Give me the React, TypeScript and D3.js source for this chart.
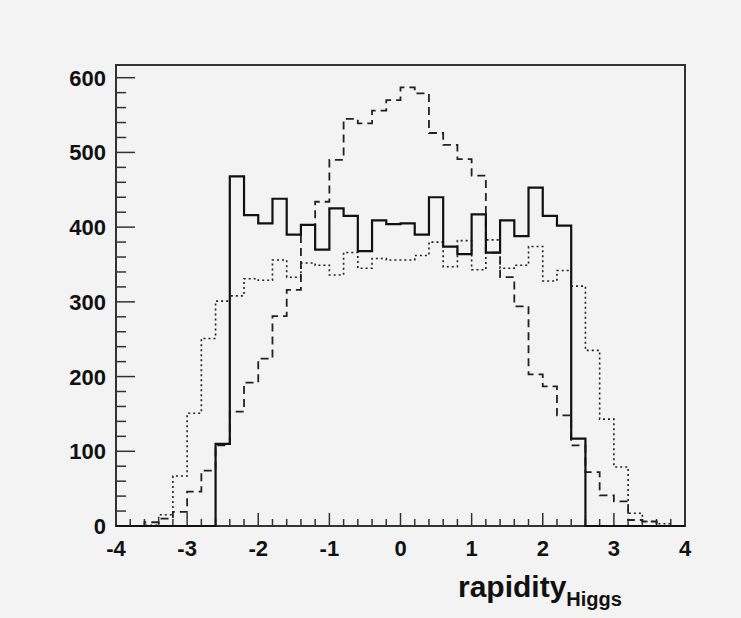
import React from 'react'
import * as d3 from 'd3'

// bin lower edges: -4 .. 3.8 in steps of 0.2 (40 bins)
const binEdges = d3.range(41).map(i => -4 + i * 0.2)

const solidCounts = [
  0, 0, 0, 0, 0, 0, 0, 110, 468, 416, 405, 438, 390, 403, 370, 425, 415, 368, 409, 404,
  405, 390, 440, 374, 364, 417, 366, 409, 388, 453, 415, 402, 117, 0, 0, 0, 0, 0, 0, 0,
]
const dashedCounts = [
  0, 0, 5, 10, 19, 46, 74, 108, 153, 192, 224, 281, 316, 403, 434, 490, 545, 539, 556, 570,
  587, 579, 526, 510, 491, 469, 366, 333, 294, 203, 187, 148, 108, 72, 41, 33, 8, 6, 0, 0,
]
const dottedCounts = [
  0, 0, 1, 15, 67, 151, 251, 301, 308, 331, 329, 356, 333, 352, 349, 336, 366, 345, 358, 356,
  356, 362, 380, 347, 382, 343, 383, 345, 349, 374, 328, 342, 321, 235, 143, 79, 17, 6, 3, 0,
]

const xTicks = [-4, -3, -2, -1, 0, 1, 2, 3, 4]
const yTicks = [0, 100, 200, 300, 400, 500, 600]

const W = 741
const H = 618
const left = 116
const right = 685
const top = 65
const bottom = 526

const x = d3.scaleLinear().domain([-4, 4]).range([left, right])
const y = d3.scaleLinear().domain([0, 617]).range([bottom, top])

const histPath = (counts: number[]) => {
  const pts: [number, number][] = counts.map((c, i) => [binEdges[i], c])
  pts.push([binEdges[40], counts[counts.length - 1]])
  return (
    d3
      .line<[number, number]>()
      .x(d => x(d[0]))
      .y(d => y(d[1]))
      .curve(d3.curveStepAfter)(pts) || ''
  )
}

const font = '"Liberation Sans", Arial, sans-serif'

export default function App() {
  const xMinor = d3.range(41).map(i => -4 + i * 0.2)
  const yMinor = d3.range(0, 620, 20)
  return (
    <svg
      width={W}
      height={H}
      style={{ position: 'absolute', left: 0, top: 0, background: '#f3f3f3' }}
    >
      <rect x={left} y={top} width={right - left} height={bottom - top} fill="none" stroke="#333" strokeWidth={2} />
      {yMinor.map(v => (
        <line key={'ym' + v} x1={left} x2={left + (v % 100 === 0 ? 19 : 10)} y1={y(v)} y2={y(v)} stroke="#333" strokeWidth={1.5} />
      ))}
      {xMinor.map((v, i) => (
        <line key={'xm' + i} x1={x(v)} x2={x(v)} y1={bottom} y2={bottom - (i % 5 === 0 ? 13 : 7)} stroke="#333" strokeWidth={1.5} />
      ))}
      <path d={histPath(dottedCounts)} fill="none" stroke="#222" strokeWidth={1.6} strokeDasharray="2,3" />
      <path d={histPath(dashedCounts)} fill="none" stroke="#222" strokeWidth={1.8} strokeDasharray="8,5" />
      <path d={histPath(solidCounts)} fill="none" stroke="#111" strokeWidth={2.2} />
      {yTicks.map(v => (
        <text key={'yl' + v} x={106} y={y(v) + 8} textAnchor="end" fontFamily={font} fontWeight="bold" fontSize={22} fill="#111">
          {v}
        </text>
      ))}
      {xTicks.map(v => (
        <text key={'xl' + v} x={x(v)} y={556} textAnchor="middle" fontFamily={font} fontWeight="bold" fontSize={22} fill="#111">
          {v}
        </text>
      ))}
      <text x={458} y={597} fontFamily={font} fontWeight="bold" fontSize={30} fill="#111">
        rapidity
        <tspan fontSize={20} dy={9}>Higgs</tspan>
      </text>
    </svg>
  )
}
